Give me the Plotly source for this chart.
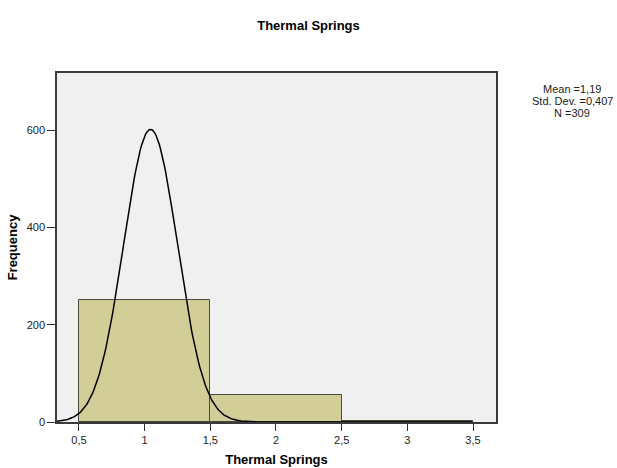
import numpy as np
import plotly.graph_objects as go

# Histogram data
bin_centers = [1, 2, 3]
counts = [252, 55, 2]
bin_width = 1.0

# Normal curve overlay as drawn in the reference (parameters)
curve_center = 1.045
curve_sd = 0.205
curve_peak = 602

x_ticks = [0.5, 1, 1.5, 2, 2.5, 3, 3.5]
x_tick_labels = ["0,5", "1", "1,5", "2", "2,5", "3", "3,5"]
y_ticks = [0, 200, 400, 600]
y_tick_labels = ["0", "200", "400", "600"]

stats_lines = ["Mean =1,19", "Std. Dev. =0,407", "N =309"]

FONT = "Liberation Sans, Arial, sans-serif"

cx = np.linspace(0.333, 3.5, 400)
cy = curve_peak * np.exp(-0.5 * ((cx - curve_center) / curve_sd) ** 2)

fig = go.Figure()
fig.add_trace(go.Bar(
    x=bin_centers, y=counts, width=bin_width,
    marker=dict(color="#D3CE98", line=dict(color="#4a4a3a", width=1)),
    hoverinfo="skip", showlegend=False,
))
fig.add_trace(go.Scatter(
    x=cx, y=cy, mode="lines",
    line=dict(color="black", width=1.5),
    hoverinfo="skip", showlegend=False,
))

W, H = 617, 468
fig.update_layout(
    width=W, height=H,
    margin=dict(l=57, r=121, t=73, b=46, autoexpand=False),
    paper_bgcolor="white",
    plot_bgcolor="#F0F0F0",
    font=dict(family=FONT, size=11, color="#222"),
    title=dict(text="<b>Thermal Springs</b>", x=0.5, xanchor="center",
               xref="container",
               y=1 - 25 / H, yanchor="middle", yref="container",
               font=dict(family=FONT, size=13, color="black")),
    bargap=0,
    showlegend=False,
)

fig.update_xaxes(
    range=[0.333, 3.675], automargin=False,
    tickvals=x_ticks, ticktext=x_tick_labels,
    ticks="outside", ticklen=7, tickcolor="#333", tickwidth=1,
    showline=True, linecolor="#3a3a3a", linewidth=1.5, mirror=True,
    showgrid=False, zeroline=False,
    tickfont=dict(family=FONT, size=11, color="#222"),
    title=dict(text="<b>Thermal Springs</b>", standoff=10,
               font=dict(family=FONT, size=13, color="black")),
)
fig.update_yaxes(
    range=[0, 718], automargin=False,
    tickvals=y_ticks, ticktext=y_tick_labels,
    ticks="outside", ticklen=8, tickcolor="#333", tickwidth=1,
    showline=True, linecolor="#3a3a3a", linewidth=1.5, mirror=True,
    showgrid=False, zeroline=False,
    tickfont=dict(family=FONT, size=11, color="#222"),
    title=dict(text="<b>Frequency</b>", standoff=6,
               font=dict(family=FONT, size=13, color="black")),
)

stat_y_px = [89, 101, 113]
for line, ypx in zip(stats_lines, stat_y_px):
    fig.add_annotation(
        text=line, xref="paper", yref="paper",
        x=(572 - 57) / (W - 57 - 121), y=1 - (ypx - 73) / (H - 73 - 46),
        xanchor="center", yanchor="middle", showarrow=False, align="center",
        borderpad=0,
        font=dict(family=FONT, size=11, color="#222"),
    )

fig.write_html("out.html", config={"displayModeBar": False},
               post_script="document.body.style.margin='0';document.body.style.overflow='hidden';")
